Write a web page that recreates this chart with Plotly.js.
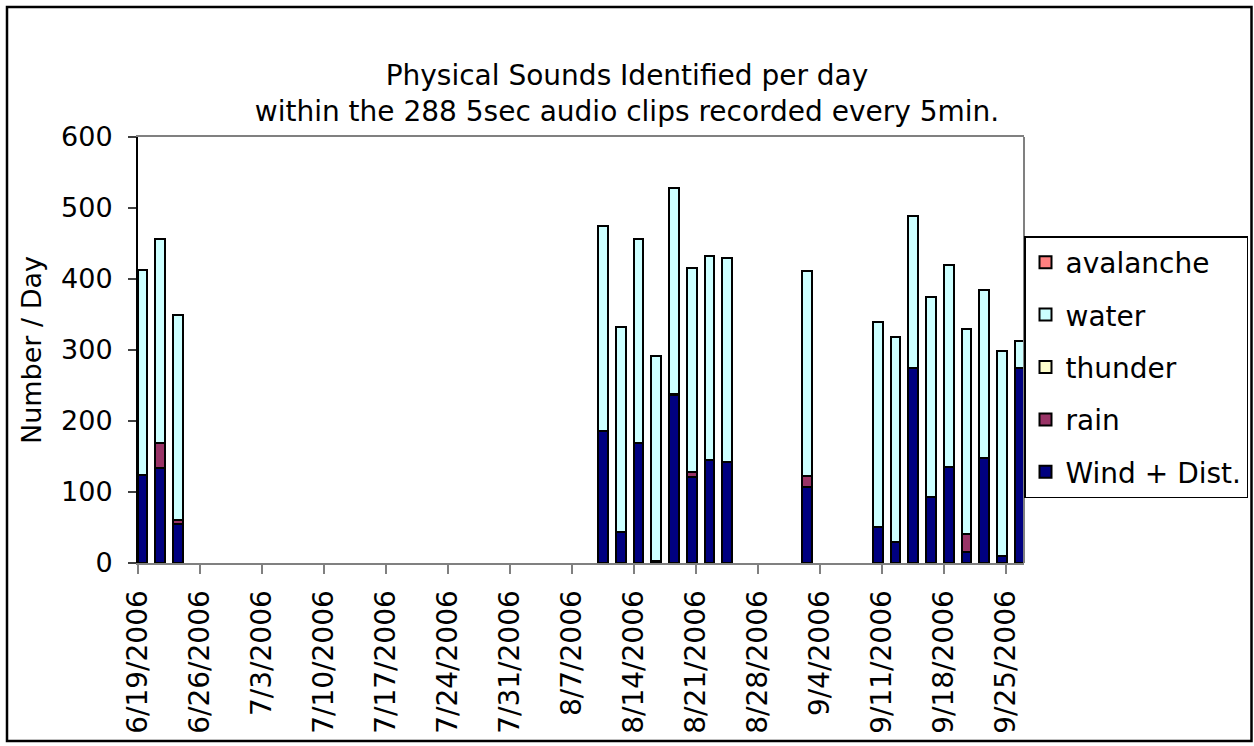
<!DOCTYPE html>
<html>
<head>
<meta charset="utf-8">
<script src="https://cdn.plot.ly/plotly-3.0.1.min.js"></script>
<style>
  html, body { margin: 0; padding: 0; background: #ffffff; }
  #chart { width: 1254px; height: 746px; }
</style>
</head>
<body>
<div id="chart"></div>
<script>
// ---- data ----
const days = ['2006-06-19','2006-06-21','2006-06-23','2006-08-10','2006-08-12','2006-08-14','2006-08-16','2006-08-18','2006-08-20','2006-08-22','2006-08-24','2006-09-02','2006-09-10','2006-09-12','2006-09-14','2006-09-16','2006-09-18','2006-09-20','2006-09-22','2006-09-24','2006-09-26'];
const windDist  = [124, 134, 55, 186, 44, 169, 3, 236, 121, 145, 142, 107, 51, 30, 274, 93, 135, 15, 148, 10, 274];
const rain      = [0, 35, 5, 0, 0, 0, 0, 2, 7, 0, 0, 16, 0, 0, 0, 0, 0, 26, 0, 0, 0];
const thunder   = [0, 0, 0, 0, 0, 0, 0, 0, 0, 0, 0, 0, 0, 0, 0, 0, 0, 0, 0, 0, 0];
const water     = [288, 288, 290, 288, 288, 288, 288, 290, 288, 288, 288, 288, 288, 288, 215, 282, 285, 288, 237, 288, 38];
const avalanche = [0, 0, 0, 0, 0, 0, 0, 0, 0, 0, 0, 0, 0, 0, 0, 0, 0, 0, 0, 0, 0];

const tickDates  = ['2006-06-19','2006-06-26','2006-07-03','2006-07-10','2006-07-17','2006-07-24','2006-07-31','2006-08-07','2006-08-14','2006-08-21','2006-08-28','2006-09-04','2006-09-11','2006-09-18','2006-09-25'];
const tickLabels = ['6/19/2006','6/26/2006','7/3/2006','7/10/2006','7/17/2006','7/24/2006','7/31/2006','8/7/2006','8/14/2006','8/21/2006','8/28/2006','9/4/2006','9/11/2006','9/18/2006','9/25/2006'];
const yTicks = [0, 100, 200, 300, 400, 500, 600];

// ---- styling ----
const DAY = 86400000;
const FONT = 'DejaVu Sans, Arial, sans-serif';
function series(name, y, color, rank) {
  return {
    type: 'bar', name: name, x: days, y: y,
    xperiod: DAY, xperiodalignment: 'middle',
    width: 1.1 * DAY,
    legendgroup: name, legendrank: rank,
    marker: { color: color, line: { color: '#000000', width: 2 } },
    hoverinfo: 'x+y+name'
  };
}
const traces = [
  series('Wind + Dist.', windDist, '#000080', 5),
  series('rain', rain, '#993366', 4),
  series('thunder', thunder, '#FFFFCC', 3),
  series('water', water, '#CCFFFF', 2),
  series('avalanche', avalanche, '#FF8080', 1)
];

const L = 138, R = 1024, T = 137, B = 563;
const W = 1254, H = 746;
const pw = R - L, ph = B - T;
const px = v => (v - L) / pw;
const py = v => (B - v) / ph;

const layout = {
  width: W, height: H,
  margin: { l: L, r: W - R, t: T, b: H - B, pad: 0, autoexpand: false },
  paper_bgcolor: '#ffffff', plot_bgcolor: '#ffffff',
  font: { family: FONT, size: 27, color: '#000000' },
  barmode: 'stack',
  showlegend: true,
  title: {
    text: 'Physical Sounds Identified per day<br>within the 288 5sec audio clips recorded every 5min.',
    font: { family: FONT, size: 28, color: '#000000' },
    xref: 'container', x: 0.5, xanchor: 'center',
    yref: 'container', y: 1 - 85 / H, yanchor: 'middle'
  },
  xaxis: {
    type: 'date',
    range: ['2006-06-19', '2006-09-27'],
    tickmode: 'array', tickvals: tickDates, ticktext: tickLabels,
    tickangle: -90,
    ticks: 'outside', ticklen: 9, tickwidth: 2, tickcolor: '#808080',
    showline: true, linecolor: '#808080', linewidth: 2, mirror: true,
    showgrid: false, zeroline: false,
    tickfont: { family: FONT, size: 28, color: '#000000' },
    ticklabelstandoff: 5,
    automargin: false,
    fixedrange: true
  },
  yaxis: {
    range: [0, 600],
    tickmode: 'array', tickvals: yTicks,
    ticks: 'outside', ticklen: 8, tickwidth: 2, tickcolor: '#404040',
    showline: true, linecolor: '#000000', linewidth: 2,
    showgrid: false, zeroline: false,
    tickfont: { family: FONT, size: 27, color: '#000000' },
    ticklabelstandoff: 10,
    automargin: false,
    title: { text: 'Number / Day', font: { family: FONT, size: 27, color: '#000000' }, standoff: 12 },
    fixedrange: true
  },
  legend: {
    x: 1, xanchor: 'left', xref: 'paper',
    y: py(236), yanchor: 'top', yref: 'paper',
    traceorder: 'grouped', tracegroupgap: 13,
    bgcolor: '#ffffff', bordercolor: '#000000', borderwidth: 1.5,
    font: { family: FONT, size: 28, color: '#000000' }
  },
  shapes: [
    { type: 'line', xref: 'paper', yref: 'paper', x0: 1, x1: 1, y0: 0, y1: 1,
      line: { color: '#808080', width: 2 } },
    { type: 'rect', xref: 'paper', yref: 'paper',
      x0: px(7), x1: px(1251.5), y0: py(741), y1: py(7),
      line: { color: '#000000', width: 2.5 }, fillcolor: 'rgba(0,0,0,0)' }
  ]
};

Plotly.newPlot('chart', traces, layout, { displayModeBar: false, staticPlot: false });
</script>
</body>
</html>
